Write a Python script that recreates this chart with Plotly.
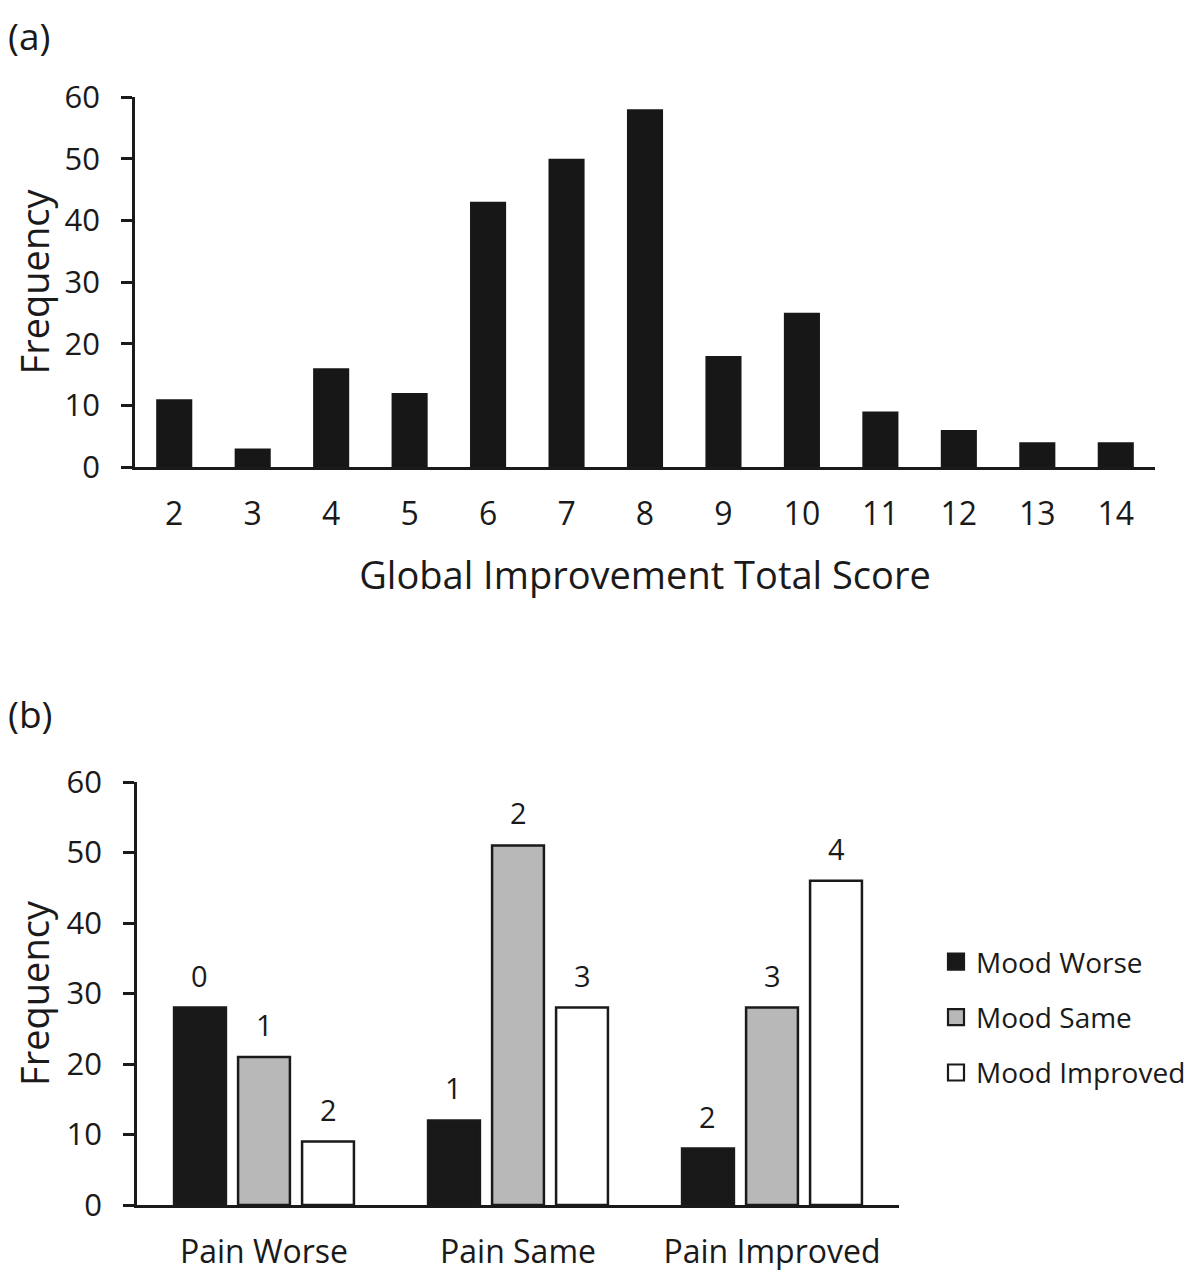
import plotly.graph_objects as go

# ---- data ----
scores = [2, 3, 4, 5, 6, 7, 8, 9, 10, 11, 12, 13, 14]
score_freq = [11, 3, 16, 12, 43, 50, 58, 18, 25, 9, 6, 4, 4]

pain_groups = ["Pain Worse", "Pain Same", "Pain Improved"]
mood_series = ["Mood Worse", "Mood Same", "Mood Improved"]
mood_worse = [28, 12, 8]
mood_same = [21, 51, 28]
mood_improved = [9, 28, 46]
bar_labels = [["0", "1", "2"], ["1", "2", "3"], ["2", "3", "4"]]  # per series, per group

series_values = [mood_worse, mood_same, mood_improved]
series_colors = ["#181818", "#b8b8b8", "#ffffff"]

FONT = "Open Sans"
INK = "#1a1a1a"
W, H = 1192, 1270
OFF = 8  # page body margin


def px(x):
    return (x - OFF) / W


def py(y):
    return 1 - (y - OFF) / H


fig = go.Figure()

# Panel (a)
fig.add_trace(go.Bar(
    x=[str(s) for s in scores], y=score_freq, width=0.46,
    marker=dict(color="#171717", line=dict(width=0)),
    xaxis="x", yaxis="y", showlegend=False,
))

# Panel (b)
bargap_b = 0.244
for i, (name, vals, col) in enumerate(zip(mood_series, series_values, series_colors)):
    fig.add_trace(go.Bar(
        x=pain_groups, y=vals, name=name,
        marker=dict(color=col, line=dict(color=INK, width=2.5)),
        xaxis="x2", yaxis="y2", showlegend=False,
    ))
# legend entries (square swatches)
for name, col in zip(mood_series, series_colors):
    fig.add_trace(go.Scatter(
        x=[None], y=[None], mode="markers", name=name, legendgroup=name,
        marker=dict(symbol="square", size=19, color=col, line=dict(color=INK, width=2.2)),
        xaxis="x2", yaxis="y2",
    ))

# labels above panel (b) bars
annotations = []
slot = (1 - bargap_b) / 3
for i, vals in enumerate(series_values):
    for g, v in enumerate(vals):
        annotations.append(dict(
            x=g + (i - 1) * slot, y=v, xref="x2", yref="y2",
            text=bar_labels[i][g], showarrow=False,
            yanchor="bottom", yshift=11,
            font=dict(family=FONT, size=29, color=INK),
        ))

annotations.append(dict(x=px(6), y=1, xref="paper", yref="paper",
                        text="(a)", showarrow=False, xanchor="left", yanchor="top",
                        font=dict(family=FONT, size=37, color=INK)))
annotations.append(dict(x=px(6), y=py(713), xref="paper", yref="paper",
                        text="(b)", showarrow=False, xanchor="left", yanchor="middle",
                        font=dict(family=FONT, size=37, color=INK)))

axis_common = dict(showline=True, linecolor=INK, linewidth=2.5, showgrid=False,
                   zeroline=False, automargin=False,
                   tickfont=dict(family=FONT, size=32, color=INK))
ytick_common = dict(range=[0, 60], dtick=10, ticks="outside", ticklen=11, tickwidth=2.5,
                    tickcolor=INK, ticklabelstandoff=15,
                    tickfont=dict(family=FONT, size=31, color=INK))
title_font = dict(family=FONT, size=38, color=INK)

fig.update_layout(
    width=W, height=H,
    margin=dict(l=0, r=0, t=0, b=0),
    paper_bgcolor="white", plot_bgcolor="white",
    barmode="group",
    bargap=bargap_b,
    bargroupgap=0.19,
    font=dict(family=FONT, color=INK),
    xaxis=dict(**axis_common, domain=[px(135), px(1155)], anchor="y",
               ticks="", ticklabelstandoff=17,
               title=dict(text="Global Improvement Total Score", font=title_font, standoff=30)),
    yaxis=dict(**{k: v for k, v in axis_common.items() if k != "tickfont"}, **ytick_common,
               domain=[py(467), py(97)], anchor="x",
               title=dict(text="Frequency", font=title_font, standoff=14)),
    xaxis2=dict(**axis_common, domain=[px(137), px(899)], anchor="y2",
                ticks="", ticklabelstandoff=17, range=[-0.5, 2.5]),
    yaxis2=dict(**{k: v for k, v in axis_common.items() if k != "tickfont"}, **ytick_common,
                domain=[py(1205), py(782)], anchor="x2",
                title=dict(text="Frequency", font=title_font, standoff=14)),
    legend=dict(x=px(936), y=py(937), xanchor="left", yanchor="top",
                font=dict(family=FONT, size=28, color=INK),
                tracegroupgap=16, bgcolor="rgba(0,0,0,0)"),
    annotations=annotations,
)

fig.write_html("out.html")
